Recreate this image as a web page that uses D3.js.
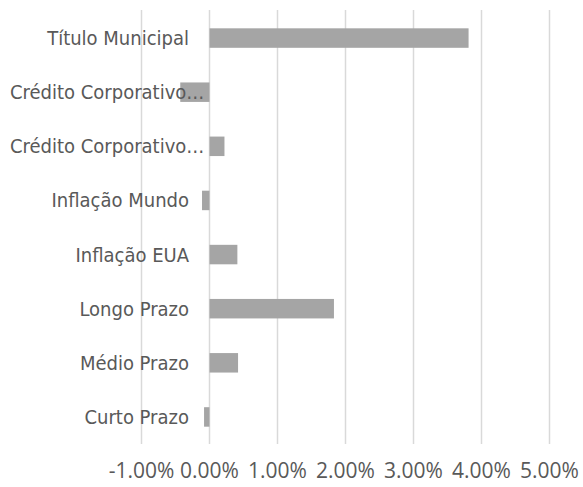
<!DOCTYPE html>
<html><head><meta charset="utf-8">
<script src="https://cdn.jsdelivr.net/npm/d3@7"></script>
<style>body{margin:0;background:#fff}svg{display:block}</style>
</head><body>
<script>
const categories = ["Título Municipal","Crédito Corporativo…","Crédito Corporativo…","Inflação Mundo","Inflação EUA","Longo Prazo","Médio Prazo","Curto Prazo"];
const values = [3.81,-0.43,0.22,-0.11,0.41,1.83,0.42,-0.08];
const tickValues = [-1,0,1,2,3,4,5];
const tickLabels = ["-1.00%","0.00%","1.00%","2.00%","3.00%","4.00%","5.00%"];

const W=583,H=487;
const svg=d3.select("body").append("svg").attr("width",W).attr("height",H);
const x=d3.scaleLinear().domain([-1,5]).range([141.5,549.5]);
const y=d3.scaleBand().domain(d3.range(categories.length)).range([11,444]).paddingInner(0.64).paddingOuter(0.32);

svg.append("g").selectAll("line").data(tickValues).join("line")
  .attr("x1",d=>x(d)).attr("x2",d=>x(d)).attr("y1",10).attr("y2",444)
  .attr("stroke","#D9D9D9").attr("stroke-width",1.5);

svg.append("g").selectAll("rect").data(values).join("rect")
  .attr("x",d=>Math.min(x(0),x(d))).attr("width",d=>Math.abs(x(d)-x(0)))
  .attr("y",(d,i)=>y(i)).attr("height",y.bandwidth())
  .attr("fill","#A5A5A5");

svg.append("g").selectAll("text").data(categories).join("text")
  .attr("x",d=>d.endsWith("…")?10:189)
  .attr("text-anchor",d=>d.endsWith("…")?"start":"end")
  .attr("y",(d,i)=>y(i)+y.bandwidth()/2)
  .attr("dy","0.35em")
  .attr("font-family","'DejaVu Sans Condensed','DejaVu Sans',sans-serif")
  .attr("font-stretch","condensed")
  .attr("font-size",20).attr("fill","#595959")
  .text(d=>d);

svg.append("g").selectAll("text").data(tickValues).join("text")
  .attr("x",d=>x(d)).attr("y",478).attr("text-anchor","middle")
  .attr("font-family","'Open Sans',sans-serif").attr("font-size",21).attr("fill","#595959")
  .text((d,i)=>tickLabels[i]);
</script>
</body></html>
